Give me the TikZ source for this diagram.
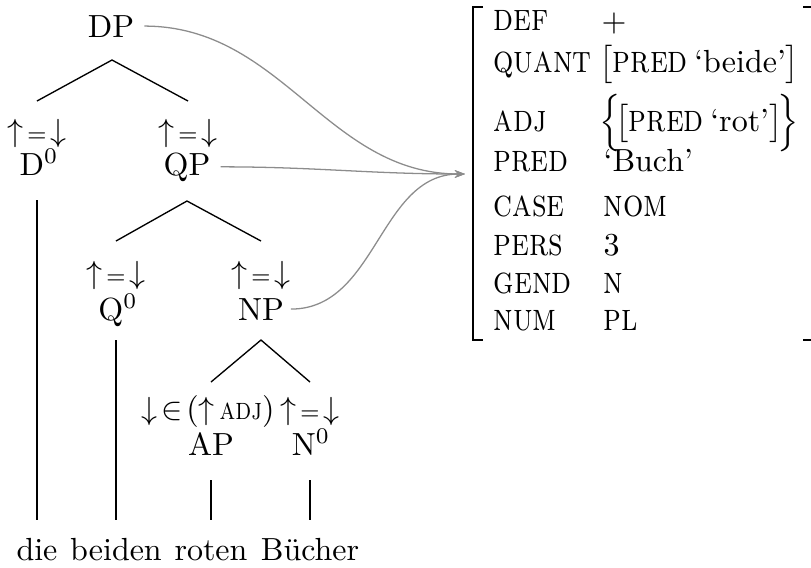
\documentclass[tikz,border=0pt]{standalone}
\usepackage{fontspec}
\usepackage{graphicx}
\usetikzlibrary{arrows.meta}
\newcommand{\sck}[1]{\scalebox{1}[1.22]{\textsc{#1}}}
\newcommand{\upeqdown}{$\uparrow$\kern1.3pt{\scriptsize=}\kern1.3pt$\downarrow$}
\newcommand{\inadj}{$\downarrow$\kern1.2pt$\in$\kern1.2pt($\uparrow$\kern1.5pt{\footnotesize\sck{adj}})}
\begin{document}
\begin{tikzpicture}[x=0.3125pt,y=-0.3125pt,
  cat/.style={inner sep=0pt, anchor=base},
  ann/.style={inner sep=0pt, anchor=base},
  attr/.style={inner sep=0pt, anchor=base west},
  edge/.style={line width=0.42pt},
  link/.style={draw=black!45, line width=0.4pt, -{Stealth[length=3.2pt,width=2.4pt]}},
  brk/.style={line width=0.6pt}]
\useasboundingbox (0,0) rectangle (811,567);

% ---- tree nodes
\node[cat] (DP) at (111,37) {DP};
\node[ann] (aD) at (37,141) {\upeqdown};
\node[cat] (D0) at (39,175) {D\textsuperscript{0}};
\node[ann] (aQP) at (188,141) {\upeqdown};
\node[cat] (QP) at (187,175) {QP};
\node[ann] (aQ) at (116,283) {\upeqdown};
\node[cat] (Q0) at (118,320) {Q\textsuperscript{0}};
\node[ann] (aNP) at (261,283) {\upeqdown};
\node[cat] (NP) at (261,320) {NP};
\node[ann] (aAP) at (208,419) {\inadj};
\node[ann] (aN) at (310,419) {\upeqdown};
\node[cat] (AP) at (211,455) {AP};
\node[cat] (N0) at (311,455) {N\textsuperscript{0}};

% ---- words
\node[cat] (w1) at (37,560) {die};
\node[cat] (w2) at (116,560) {beiden};
\node[cat] (w3) at (211,560) {roten};
\node[cat] (w4) at (310,560) {Bücher};

% ---- branch coordinates
\coordinate (dpT) at (112,60);
\coordinate (dpL) at (37,101);
\coordinate (dpR) at (188,101);
\coordinate (qpT) at (187,201);
\coordinate (qpL) at (116,241);
\coordinate (qpR) at (261,241);
\coordinate (npT) at (261,340);
\coordinate (npL) at (211,382);
\coordinate (npR) at (310,382);
\coordinate (d0T) at (37,200);
\coordinate (d0B) at (37,520);
\coordinate (q0T) at (116,340);
\coordinate (q0B) at (116,520);
\coordinate (apT) at (211,480);
\coordinate (apB) at (211,520);
\coordinate (n0T) at (310,480);
\coordinate (n0B) at (310,520);

\draw[edge] (dpL) -- (dpT) -- (dpR);
\draw[edge] (qpL) -- (qpT) -- (qpR);
\draw[edge] (npL) -- (npT) -- (npR);
\draw[edge] (d0T) -- (d0B);
\draw[edge] (q0T) -- (q0B);
\draw[edge] (apT) -- (apB);
\draw[edge] (n0T) -- (n0B);

% ---- f-structure
\coordinate (fs) at (465,174);
\draw[brk] (483,7) -- (473,7) -- (473,340) -- (483,340);
\draw[brk] (803,7) -- (811,7);
\draw[brk] (803,340) -- (811,340);

\node[attr] (kDEF) at (493,30) {\sck{def}};
\node[attr] (vDEF) at (601,31) {$+$};
\node[attr] (kQUANT) at (493,72) {\sck{quant}};
\node[attr] (vQUANT) at (599,72) {$\bigl[$\sck{pred}\hspace{2pt}`beide'$\bigr]$};
\node[attr] (kADJ) at (493,131) {\sck{adj}};
\node[attr] (vADJ) at (599,131) {$\Bigl\{\!\bigl[$\sck{pred}\hspace{2pt}`rot'$\bigr]\!\Bigr\}$};
\node[attr] (kPRED) at (493,171) {\sck{pred}};
\node[attr] (vPRED) at (603,171) {`Buch'};
\node[attr] (kCASE) at (493,216) {\sck{case}};
\node[attr] (vCASE) at (603,216) {\sck{nom}};
\node[attr] (kPERS) at (493,255) {\sck{pers}};
\node[attr] (vPERS) at (603,255) {3};
\node[attr] (kGEND) at (493,293) {\sck{gend}};
\node[attr] (vGEND) at (603,293) {\sck{n}};
\node[attr] (kNUM) at (493,330) {\sck{num}};
\node[attr] (vNUM) at (603,330) {\sck{pl}};

% ---- links
\draw[link] ([xshift=3pt]DP.east) to[out=0,in=180] (fs);
\draw[link] ([xshift=3pt]QP.east) to[out=0,in=180] (fs);
\draw[link] ([xshift=2pt]NP.east) to[out=0,in=180] (fs);
\end{tikzpicture}
\end{document}
